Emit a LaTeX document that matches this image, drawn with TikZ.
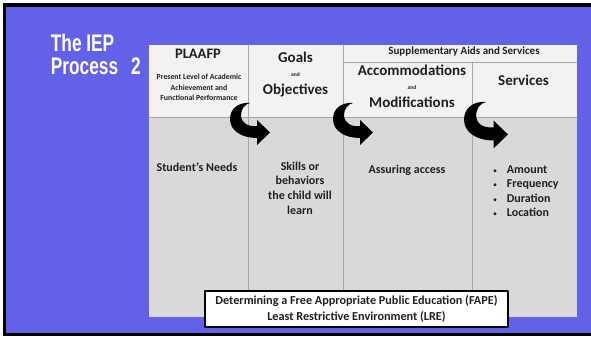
\documentclass[tikz,border=0pt]{standalone}
\usepackage{fontspec}
\setmainfont{Carlito}
\newfontfamily\titlefont{Liberation Sans}
\definecolor{slide}{RGB}{99,97,232}
\definecolor{headgray}{RGB}{242,242,242}
\definecolor{bodygray}{RGB}{217,217,217}
\definecolor{rulegray}{RGB}{166,166,166}
\begin{document}
\begin{tikzpicture}[x=1pt, y=-1pt, line join=round, line cap=round,
	hd/.style={inner sep=0pt, anchor=base, text=black!88, font=\fontsize{15}{15}\selectfont\bfseries},
	sub/.style={inner sep=0pt, anchor=base, text=black!88, font=\fontsize{11}{11}\selectfont\bfseries},
	tiny/.style={inner sep=0pt, anchor=base, text=black!88, font=\fontsize{5.5}{5.5}\selectfont\bfseries},
	body/.style={inner sep=0pt, text=black!88, align=center, font=\fontsize{12}{14.7}\selectfont\bfseries}]
			\useasboundingbox (0,0) rectangle (591,337);
			\fill [white] (0,0) rectangle (591,337);
			\fill [black] (2.7,3.3) rectangle (591,336);
			\fill [slide] (6,6.7) rectangle (591,333);
			% title
			\node [anchor=base west, inner sep=0pt, text=white] (title1) at (50.7,51.3) {\titlefont\bfseries\fontsize{24}{24}\selectfont\scalebox{0.72}[1]{The IEP}};
			\node [anchor=base west, inner sep=0pt, text=white] (title2) at (50.7,74.7) {\titlefont\bfseries\fontsize{24}{24}\selectfont\scalebox{0.72}[1]{Process\hspace{18pt}2}};
			% table
			\fill [headgray] (149,45) rectangle (577,117);
			\fill [bodygray] (149,117) rectangle (577,317);
			\draw [rulegray, line width=0.8pt] (149,117)--(577,117);
			\draw [rulegray, line width=0.8pt] (343,62)--(577,62);
			\draw [rulegray, line width=0.8pt] (248,45)--(248,317);
			\draw [rulegray, line width=0.8pt] (343,45)--(343,317);
			\draw [rulegray, line width=0.8pt] (472,62)--(472,317);
			% headings
			\node [hd, font=\fontsize{14.5}{14.5}\selectfont\bfseries] (plaafp) at (198,59) {PLAAFP};
			\node [body, font=\fontsize{7.8}{10.5}\selectfont\bfseries] (plaafpsub) at (199,87.5) {Present Level of Academic\\Achievement and\\Functional Performance};
			\node [hd] (goals) at (295.5,63) {Goals};
			\node [tiny] (goalsand) at (295.5,76) {and};
			\node [hd] (objectives) at (295.5,94) {Objectives};
			\node [sub] (supp) at (464,55) {Supplementary Aids and Services};
			\node [hd] (accom) at (412,75.7) {Accommodations};
			\node [tiny] (accomand) at (412,89.7) {and};
			\node [hd] (modif) at (412,107) {Modifications};
			\node [hd] (services) at (523.5,85.7) {Services};
			% body
			\node [body, anchor=base] (needs) at (197,171.7) {Student’s Needs};
			\node [body] (skills) at (300,188) {Skills or\\behaviors\\the child will\\learn};
			\node [body, anchor=base] (access) at (407,173.3) {Assuring access};
			\foreach \w [count=\i] in {Amount,Frequency,Duration,Location}{
				\node [body, anchor=base, font=\fontsize{8}{8}\selectfont] (dot\i) at ({495},{173.3+14.5*(\i-1)}) {\textbullet};
				\node [body, anchor=base west] (item\i) at ({506.7},{173.3+14.5*(\i-1)}) {\w};
			}
			% curved arrows
			\foreach \ax/\ay/\s in {250/103/1, 353/103/1, 486/102/1.1}{
				\fill [black, shift={(\ax,\ay)}, scale=\s] (0,0) .. controls (-12,-1) and (-20,6) .. (-20,16) .. controls (-20,28) and (-8,35) .. (7,35) -- (7,42) -- (20,29.5) -- (7,17) -- (7,23) .. controls (-2,24) and (-9,20) .. (-9,12) .. controls (-9,6) and (-5,1) .. (0,0) -- cycle;
			}
			% bottom box
			\node [draw=black, line width=1.6pt, fill=white, minimum width=303pt, minimum height=36pt, align=center, text=black!88, font=\fontsize{12.2}{15.3}\selectfont\bfseries] (fape) at (356.5,309) {Determining a Free Appropriate Public Education (FAPE)\\Least Restrictive Environment (LRE)};
		\end{tikzpicture}
\end{document}
